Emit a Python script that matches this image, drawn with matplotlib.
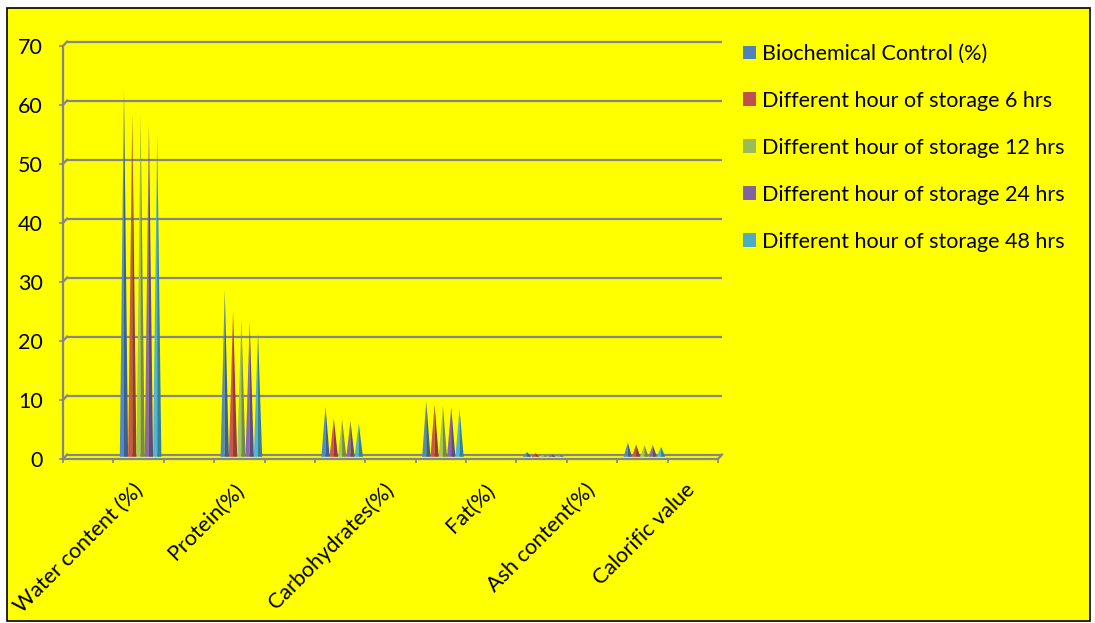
import matplotlib
matplotlib.use("Agg")
import matplotlib.pyplot as plt
from matplotlib.patches import Polygon, Rectangle, Patch
from matplotlib.colors import to_rgb

# ---- data ----
categories = ["Water content (%)", "Protein(%)", "Carbohydrates(%)", "Fat(%)",
              "Ash content(%)", "Calorific value"]
series_names = ["Biochemical Control (%)",
                "Different hour of storage 6 hrs",
                "Different hour of storage 12 hrs",
                "Different hour of storage 24 hrs",
                "Different hour of storage 48 hrs"]
control = [62.5, 28.3, 8.5, 9.4, 0.8, 2.4]
storage_6 = [58.2, 24.6, 6.5, 8.8, 0.6, 2.1]
storage_12 = [58.0, 23.5, 6.4, 8.6, 0.4, 2.0]
storage_24 = [56.3, 22.9, 6.1, 8.4, 0.4, 2.0]
storage_48 = [54.6, 21.2, 5.7, 8.1, 0.3, 1.7]
y_ticks = [0, 10, 20, 30, 40, 50, 60, 70]

series = [control, storage_6, storage_12, storage_24, storage_48]
colors = ["#4F81BD", "#C0504D", "#9BBB59", "#8064A2", "#4BACC6"]

# ---- layout ----
W, H = 1095, 623
GRAY = "#868686"
FONT = "Lato"
FS = 15.5
plt.rcParams["font.family"] = [FONT, "DejaVu Sans"]

fig = plt.figure(figsize=(W / 100, H / 100), dpi=100)
fig.patch.set_facecolor("white")
fig.patches.append(Rectangle((7 / W, 2 / H), (1090 - 7) / W, (621 - 8) / H,
                             transform=fig.transFigure, facecolor="#FFFF00",
                             edgecolor="black", linewidth=1.2, zorder=-5))

ax = fig.add_axes([63 / W, (H - 459) / H, (718 - 63) / W, (459 - 46) / H])
ax.set_zorder(2)
ax.patch.set_visible(False)
n_slots = 13
ax.set_xlim(0, n_slots)
ax.set_ylim(0, 70)

# depth offset of the back wall (data units)
dx, dy = 0.08, 0.75

for s in ["top", "right"]:
    ax.spines[s].set_visible(False)
for s in ["left", "bottom"]:
    ax.spines[s].set_color(GRAY)
    ax.spines[s].set_linewidth(1.6)

# back wall gridlines with their connectors to the front axis
for v in y_ticks:
    ax.plot([dx, n_slots + dx], [v + dy, v + dy], color=GRAY, lw=1.6,
            clip_on=False, zorder=1, solid_capstyle="butt")
    ax.plot([0, dx], [v, v + dy], color=GRAY, lw=1.6, clip_on=False, zorder=1)
ax.plot([n_slots, n_slots + dx], [0, dy], color=GRAY, lw=1.6, clip_on=False, zorder=1)

# cones, sitting at mid depth
cw = 0.165
for i in range(len(categories)):
    center = 2 * i + 1.5
    for j, (vals, c) in enumerate(zip(series, colors)):
        cx = center + (j - 2) * cw + dx / 2
        base = dy / 2
        top = vals[i] + dy / 2
        rgb = to_rgb(c)
        dark = tuple(ch * 0.75 for ch in rgb)
        light = tuple(min(1, ch * 1.06) for ch in rgb)
        ax.add_patch(Polygon([(cx - cw / 2, base), (cx, top), (cx, base)],
                             closed=True, facecolor=light, edgecolor="none",
                             zorder=3, clip_on=False))
        ax.add_patch(Polygon([(cx, base), (cx, top), (cx + cw / 2, base)],
                             closed=True, facecolor=dark, edgecolor="none",
                             zorder=3, clip_on=False))

# axis ticks and labels
ax.set_yticks(y_ticks)
ax.tick_params(axis="y", length=2.9, width=1.2, color=GRAY, pad=11.5,
               labelsize=FS, labelcolor="black")
ax.set_xticks(range(n_slots + 1))
ax.set_xticklabels([])
ax.tick_params(axis="x", which="major", length=2.9, width=1.2, color=GRAY)
label_pos = [1.67, 3.67, 6.65, 8.64, 10.64, 12.62]
ax.set_xticks(label_pos, categories, minor=True, rotation=45, ha="right", va="top")
ax.tick_params(axis="x", which="minor", length=0, pad=15, labelsize=FS)

handles = [Patch(facecolor=c, edgecolor="none") for c in colors]
fig.legend(handles, series_names, loc="upper left",
           bbox_to_anchor=(743 / W, 1 - 44 / H), frameon=False, fontsize=FS,
           handlelength=0.6, handleheight=0.6, handletextpad=0.3,
           labelspacing=1.25, borderpad=0, borderaxespad=0)

fig.savefig("out.png", dpi=100, facecolor=fig.get_facecolor())
